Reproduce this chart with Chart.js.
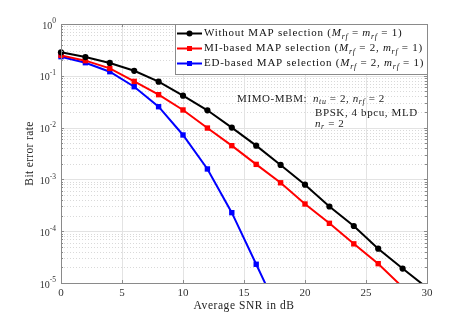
<!DOCTYPE html>
<html><head><meta charset="utf-8">
<script src="https://cdn.jsdelivr.net/npm/chart.js@4.4.1/dist/chart.umd.min.js"></script>
<style>html,body{margin:0;padding:0;background:#fff}#wrap{width:471px;height:319px;position:relative}</style>
</head><body><div id="wrap"><canvas id="c" width="471" height="319"></canvas></div>
<script>
// ---- data ----
const snrWithout = [0,2,4,6,8,10,12,14,16,18,20,22,24,26,28,30];
const berWithout = [0.284,0.23,0.177,0.125,0.0769,0.0413,0.0216,0.0100,0.00448,0.0019,7.9e-4,3.0e-4,1.26e-4,4.6e-5,1.9e-5,8.1e-6];
const snrMI = [0,2,4,6,8,10,12,14,16,18,20,22,24,26,28];
const berMI = [0.248,0.196,0.139,0.078,0.0432,0.0219,0.0098,0.00448,0.00195,8.6e-4,3.35e-4,1.42e-4,5.7e-5,2.36e-5,8.3e-6];
const snrED = [0,2,4,6,8,10,12,14,16,18];
const berED = [0.234,0.179,0.120,0.0616,0.0253,0.0072,0.00159,2.28e-4,2.3e-5,2.3e-6];
const xTicks = [0,5,10,15,20,25,30];
const yTickExponents = [0,-1,-2,-3,-4,-5];
const xTitle = "Average SNR in dB";
const yTitle = "Bit error rate";
const seriesNames = ["Without MAP selection","MI-based MAP selection","ED-based MAP selection"];
const seriesParams = [["M","=","m","= 1"],["M","= 2,","m","= 1"],["M","= 2,","m","= 1"]];

const FONT = '"Liberation Serif", "DejaVu Serif", serif';
const YMIN = 1e-5, YMAX = 1;

function toXY(xs, ys){ return xs.map((x,i)=>({x:x,y:ys[i]})); }

function drawRuns(ctx, runs, x, y, size, ls){
  ctx.letterSpacing = (ls||0) + 'px';
  for(const r of runs){
    const s = (r.sub||r.sup) ? size*0.72 : size;
    ctx.font = (r.i?'italic ':'') + s + 'px ' + FONT;
    const dy = r.sub ? size*0.28 : (r.sup ? -size*0.38 : 0);
    ctx.fillText(r.t, x, y+dy);
    x += ctx.measureText(r.t).width;
  }
  ctx.letterSpacing = '0px';
  return x;
}

const bgPlugin = {
  id:'bg',
  beforeDatasetsDraw(chart){
    const {ctx, chartArea:a, scales:{x, y}} = chart;
    ctx.save();
    ctx.lineWidth = 1;
    ctx.strokeStyle = '#d9d9d9';
    ctx.setLineDash([1,2]);
    for(let e=-5;e<0;e++){
      for(let m=2;m<=9;m++){
        const py = Math.round(y.getPixelForValue(m*Math.pow(10,e)))+0.5;
        ctx.beginPath(); ctx.moveTo(a.left,py); ctx.lineTo(a.right,py); ctx.stroke();
      }
    }
    ctx.setLineDash([]);
    ctx.strokeStyle = '#e3e3e3';
    for(const e of yTickExponents){
      const py = Math.round(y.getPixelForValue(Math.pow(10,e)))+0.5;
      ctx.beginPath(); ctx.moveTo(a.left,py); ctx.lineTo(a.right,py); ctx.stroke();
    }
    for(const t of xTicks){
      const px = Math.round(x.getPixelForValue(t))+0.5;
      ctx.beginPath(); ctx.moveTo(px,a.top); ctx.lineTo(px,a.bottom); ctx.stroke();
    }
    ctx.restore();
  },
  afterDatasetsDraw(chart){
    const {ctx, chartArea:a, scales:{x, y}} = chart;
    ctx.save();
    ctx.strokeStyle = '#8a8a8a';
    ctx.lineWidth = 1;
    ctx.strokeRect(Math.round(a.left)+0.5, Math.round(a.top)+0.5, Math.round(a.right-a.left), Math.round(a.bottom-a.top));
    for(const t of xTicks){
      const px = Math.round(x.getPixelForValue(t))+0.5;
      ctx.beginPath(); ctx.moveTo(px,a.bottom); ctx.lineTo(px,a.bottom-3); ctx.moveTo(px,a.top); ctx.lineTo(px,a.top+3); ctx.stroke();
    }
    for(let e=-5;e<=0;e++){
      for(let m=1;m<=9;m++){
        if(e===0 && m>1) break;
        const py = Math.round(y.getPixelForValue(m*Math.pow(10,e)))+0.5;
        const len = m===1?3:2;
        ctx.beginPath(); ctx.moveTo(a.left,py); ctx.lineTo(a.left+len,py); ctx.moveTo(a.right,py); ctx.lineTo(a.right-len,py); ctx.stroke();
      }
    }
    // tick labels
    ctx.fillStyle = '#333';
    ctx.textBaseline = 'middle';
    ctx.textAlign = 'center';
    ctx.font = '11px ' + FONT;
    for(const t of xTicks){
      ctx.fillText(String(t), x.getPixelForValue(t), a.bottom+10);
    }
    ctx.textAlign = 'left';
    for(const e of yTickExponents){
      const py = y.getPixelForValue(Math.pow(10,e));
      ctx.font = '10px ' + FONT;
      const w1 = ctx.measureText('10').width;
      ctx.font = '7.5px ' + FONT;
      const w2 = ctx.measureText(String(e)).width;
      const x0 = 56 - w1 - w2;
      ctx.font = '10px ' + FONT;
      ctx.fillText('10', x0, py+2);
      ctx.font = '7.5px ' + FONT;
      ctx.fillText(String(e), x0+w1, py-2.5);
    }
    // axis titles
    ctx.fillStyle = '#222';
    ctx.font = '11.5px ' + FONT;
    ctx.textAlign = 'center';
    ctx.letterSpacing = '0.55px';
    ctx.fillText(xTitle, (a.left+a.right)/2, a.bottom+23);
    ctx.letterSpacing = '0.35px';
    ctx.save();
    ctx.translate(30, (a.top+a.bottom)/2);
    ctx.rotate(-Math.PI/2);
    ctx.fillText(yTitle, 0, 0);
    ctx.restore();
    ctx.letterSpacing = '0px';

    // annotation
    ctx.textAlign = 'left';
    ctx.fillStyle = '#222';
    drawRuns(ctx, [{t:'MIMO-MBM:'}], 237, 99, 11, 0.6);
    drawRuns(ctx, [{t:'n',i:1},{t:'tu',i:1,sub:1},{t:' = 2, '},{t:'n',i:1},{t:'rf',i:1,sub:1},{t:' = 2'}], 313, 99, 11, 0.6);
    drawRuns(ctx, [{t:'BPSK, 4 bpcu, MLD'}], 315, 113, 11, 0.6);
    drawRuns(ctx, [{t:'n',i:1},{t:'r',i:1,sub:1},{t:' = 2'}], 315, 124, 11, 0.6);

    // legend
    const lx0 = 175.5, ly0 = a.top+0.5, lx1 = Math.round(a.right)+0.5, ly1 = 74.5;
    ctx.fillStyle = '#fff';
    ctx.fillRect(lx0, ly0, lx1-lx0, ly1-ly0);
    ctx.strokeStyle = '#8a8a8a';
    ctx.lineWidth = 1;
    ctx.strokeRect(lx0, ly0, lx1-lx0, ly1-ly0);
    const rows = [33.5, 48.5, 63.5];
    chart.data.datasets.forEach((ds,i)=>{
      const ry = rows[i];
      ctx.strokeStyle = ds.borderColor; ctx.lineWidth = 2;
      ctx.beginPath(); ctx.moveTo(177,ry); ctx.lineTo(202,ry); ctx.stroke();
      ctx.fillStyle = ds.borderColor;
      if(ds.pointStyle==='circle'){ ctx.beginPath(); ctx.arc(189.5,ry,3,0,Math.PI*2); ctx.fill(); }
      else { ctx.fillRect(187,ry-2.5,5,5); }
      ctx.fillStyle = '#111';
      ctx.textBaseline = 'middle';
      const p = seriesParams[i];
      drawRuns(ctx, [{t:seriesNames[i]+' ('},{t:p[0],i:1},{t:'rf',i:1,sub:1},{t:' '+p[1]+' '},{t:p[2],i:1},{t:'rf',i:1,sub:1},{t:' '+p[3]+')'}], 204, ry, 11, 0.75);
    });
    ctx.restore();
  }
};

const hideBelow = (c)=>{ const v = c.raw && c.raw.y; return (v!==undefined && v < YMIN) ? 0 : undefined; };
const CLIP = {left:8,top:8,right:8,bottom:0};

new Chart(document.getElementById('c'), {
  type:'line',
  data:{ datasets:[
    {label:seriesNames[0], data:toXY(snrWithout,berWithout), borderColor:'#000000', backgroundColor:'#000000', borderWidth:2, pointStyle:'circle', pointRadius:(c)=>hideBelow(c)??3.1, pointBorderWidth:0, clip:CLIP},
    {label:seriesNames[1], data:toXY(snrMI,berMI), borderColor:'#ff0000', backgroundColor:'#ff0000', borderWidth:2, pointStyle:'rect', pointRadius:(c)=>hideBelow(c)??3.8, pointBorderWidth:0, clip:CLIP},
    {label:seriesNames[2], data:toXY(snrED,berED), borderColor:'#0000ff', backgroundColor:'#0000ff', borderWidth:2, pointStyle:'rect', pointRadius:(c)=>hideBelow(c)??3.8, pointBorderWidth:0, clip:CLIP}
  ]},
  options:{
    responsive:false, animation:false, devicePixelRatio:1,
    layout:{padding:{top:24,right:44,left:0,bottom:0}},
    plugins:{legend:{display:false}, tooltip:{enabled:false}},
    elements:{line:{tension:0}},
    scales:{
      x:{type:'linear', min:0, max:30, grid:{display:false}, border:{display:false}, ticks:{display:false},
         afterFit(s){ s.height = 36; }},
      y:{type:'logarithmic', min:YMIN, max:YMAX, grid:{display:false}, border:{display:false}, ticks:{display:false},
         afterFit(s){ s.width = 61; }}
    }
  },
  plugins:[bgPlugin]
});
</script></body></html>
